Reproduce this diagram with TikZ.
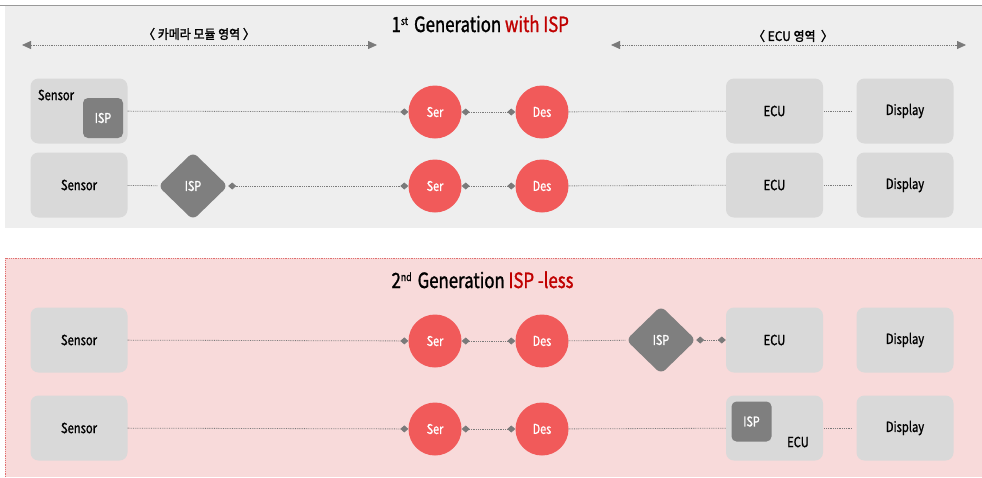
\documentclass[tikz,border=0pt]{standalone}
\usepackage{fontspec}
\setmainfont[FakeStretch=0.8,FakeBold=1.2]{Noto Sans CJK KR}
\newfontfamily\krfont[FakeStretch=0.92,FakeBold=1.6]{Noto Sans CJK KR}
\usetikzlibrary{arrows.meta,shapes.geometric}

\definecolor{panelgrey}{HTML}{EEEEEE}
\definecolor{panelpink}{HTML}{F8DADA}
\definecolor{boxgrey}{HTML}{D9D9D9}
\definecolor{ispgrey}{HTML}{7F7F7F}
\definecolor{serred}{HTML}{F15A5A}
\definecolor{titlered}{HTML}{C00000}
\definecolor{linegrey}{HTML}{7A7A7A}
\definecolor{borderred}{HTML}{E07070}

\tikzset{
  block/.style={fill=boxgrey, rounded corners=8pt, minimum width=97pt, minimum height=65pt,
    inner sep=0pt, font=\fontsize{14}{14}\selectfont},
  ispbox/.style={fill=ispgrey, rounded corners=5pt, minimum size=40pt, inner sep=0pt,
    text=white, font=\fontsize{13.5}{13.5}\selectfont},
  ispdiamond/.style={diamond, fill=ispgrey, rounded corners=6pt, minimum width=70pt,
    minimum height=68pt, inner sep=0pt, text=white, font=\fontsize{13.5}{13.5}\selectfont},
  serdes/.style={circle, fill=serred, minimum size=53pt, inner sep=0pt, text=white,
    font=\fontsize{13.5}{13.5}\selectfont},
  link/.style={draw=linegrey, densely dotted, line width=0.8pt},
  dtip/.tip={Diamond[width=7pt,length=8pt,fill=linegrey]},
  both/.style={link, dtip-dtip},
  toend/.style={link, -dtip},
  region/.style={draw=linegrey, densely dotted, line width=0.8pt,
    {Triangle[width=8pt,length=9pt]}-{Triangle[width=8pt,length=9pt]}},
  regionlabel/.style={font=\fontsize{13}{13}\krfont},
  titlefont/.style={font=\fontsize{21}{21}\selectfont}
}

\begin{document}
\begin{tikzpicture}[x=1pt,y=-1pt]
\useasboundingbox (0,0) rectangle (982,477);

% panel backgrounds
\fill[panelgrey] (5,5) rectangle (982,228);
\draw[gray!80, line width=1pt] (0,5) -- (982,5);
\fill[panelpink] (5,258) rectangle (982,477);
\draw[borderred, densely dotted, line width=0.8pt] (5,477) -- (5,258) -- (982,258);

% ---------- 1st generation ----------
\node[titlefont, anchor=base west] (title1) at (388,32)
  {1\raisebox{7pt}{\fontsize{11}{11}\selectfont st}\hspace{6pt}Generation \textcolor{titlered}{with ISP}};

\coordinate (camL) at (22,45);
\coordinate (camR) at (377,45);
\draw[region] (camL) -- (camR);
\node[regionlabel] (camtext) at (199,34) {〈 카메라 모듈 영역 〉};

\coordinate (ecuL) at (611,45);
\coordinate (ecuR) at (966,45);
\draw[region] (ecuL) -- (ecuR);
\node[regionlabel] (ecutext) at (793,36) {〈 ECU 영역 \ 〉};

% row 1
\node[block] (s1) at (79,111) {};
\node[font=\fontsize{14}{14}\selectfont] (s1lab) at (56,95) {Sensor};
\node[ispbox] (isp1) at (103,118) {ISP};
\node[serdes] (ser1) at (435,112) {Ser};
\node[serdes] (des1) at (542,112) {Des};
\node[block] (ecu1) at (774.5,111) {ECU};
\node[block] (disp1) at (905,111) {Display};
\draw[toend] (s1) -- (ser1);
\draw[both] (ser1) -- (des1);
\draw[link] (des1) -- (ecu1);
\draw[link, shorten <=1pt, shorten >=4pt] (ecu1) -- (disp1);

% row 2
\node[block] (s2) at (79,185) {Sensor};
\node[ispdiamond] (isp2) at (193,186) {ISP};
\node[serdes] (ser2) at (435,186) {Ser};
\node[serdes] (des2) at (542,186) {Des};
\node[block] (ecu2) at (774.5,185) {ECU};
\node[block] (disp2) at (905,185) {Display};
\draw[link] (s2) -- (isp2);
\draw[both] (isp2) -- (ser2);
\draw[both] (ser2) -- (des2);
\draw[link] (des2) -- (ecu2);
\draw[link, shorten <=1pt, shorten >=4pt] (ecu2) -- (disp2);

% ---------- 2nd generation ----------
\node[titlefont, anchor=base west] (title2) at (388,288)
  {2\raisebox{7pt}{\fontsize{11}{11}\selectfont nd}\hspace{6pt}Generation \textcolor{titlered}{ISP -less}};

% row 3
\node[block] (s3) at (79,340) {Sensor};
\node[serdes] (ser3) at (435,341) {Ser};
\node[serdes] (des3) at (542,341) {Des};
\node[ispdiamond] (isp3) at (661,340) {ISP};
\node[block] (ecu3) at (774.5,340) {ECU};
\node[block] (disp3) at (905,340) {Display};
\draw[toend] (s3) -- (ser3);
\draw[both] (ser3) -- (des3);
\draw[link] (des3) -- (isp3);
\draw[both] (isp3) -- (ecu3);

% row 4
\node[block] (s4) at (79,428) {Sensor};
\node[serdes] (ser4) at (435,429) {Ser};
\node[serdes] (des4) at (542,429) {Des};
\node[block] (ecu4) at (774.5,428) {};
\node[ispbox] (isp4) at (751.5,421.5) {ISP};
\node[font=\fontsize{14}{14}\selectfont] (ecu4lab) at (798,442) {ECU};
\node[block] (disp4) at (905,428) {Display};
\draw[toend] (s4) -- (ser4);
\draw[both] (ser4) -- (des4);
\draw[link] (des4) -- (ecu4);
\draw[link, shorten <=1pt, shorten >=4pt] (ecu4) -- (disp4);
\end{tikzpicture}
\end{document}
